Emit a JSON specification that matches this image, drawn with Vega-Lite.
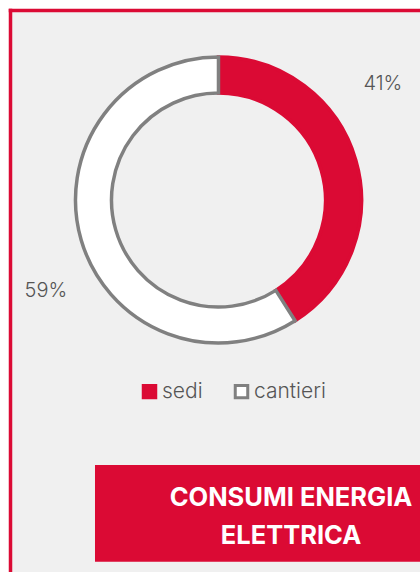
{
  "$schema": "https://vega.github.io/schema/vega-lite/v6.json",
  "width": 410,
  "height": 562,
  "autosize": {"type": "none"},
  "padding": {"left": 10, "top": 10, "right": 0, "bottom": 0},
  "background": "#ffffff",
  "config": {
    "view": {"fill": "#f0f0f0", "stroke": null},
    "font": "Inter"
  },
  "data": {"values": [
    {"category": "sedi", "value": 0.41},
    {"category": "cantieri", "value": 0.59}
  ]},
  "resolve": {"scale": {"theta": "independent"}},
  "layer": [
    {
      "data": {"values": [{"box": "titolo"}]},
      "mark": {"type": "rect", "fill": "#db0a34"},
      "encoding": {
        "x": {"datum": 0.2073, "type": "quantitative", "scale": {"domain": [0, 1], "nice": false},
              "axis": {"orient": "top", "domainColor": "#db0a34", "domainWidth": 3.5, "domainCap": "square", "ticks": false, "labels": false, "grid": false, "title": null}},
        "x2": {"datum": 1},
        "y": {"datum": 0.8096, "type": "quantitative", "scale": {"domain": [0, 1], "nice": false, "reverse": true},
              "axis": {"orient": "left", "domainColor": "#db0a34", "domainWidth": 3.5, "domainCap": "square", "ticks": false, "labels": false, "grid": false, "title": null}},
        "y2": {"datum": 0.9817}
      }
    },
    {
      "data": {"values": [{"box": "titolo"}]},
      "mark": {"type": "text", "fill": "#ffffff", "font": "Inter", "fontWeight": "bold", "fontSize": 25.5, "align": "center", "baseline": "middle", "lineHeight": 38},
      "encoding": {
        "x": {"datum": 0.6854, "type": "quantitative"},
        "y": {"datum": 0.8683, "type": "quantitative"},
        "text": {"value": ["CONSUMI ENERGIA", "ELETTRICA"]}
      }
    },
    {
      "mark": {"type": "arc", "outerRadius": 143, "innerRadius": 107, "strokeWidth": 3.5},
      "encoding": {
        "x": {"datum": 0.5085, "type": "quantitative"},
        "y": {"datum": 0.3381, "type": "quantitative"},
        "theta": {"field": "value", "type": "quantitative", "stack": true},
        "order": {"field": "category", "sort": "descending"},
        "fill": {"field": "category", "type": "nominal", "sort": "descending",
                 "scale": {"range": ["#db0a34", "#ffffff"]},
                 "legend": {"title": null, "orient": "none", "legendX": 129, "legendY": 371, "direction": "horizontal", "padding": 0,
                            "symbolType": "square", "symbolSize": 156, "symbolStrokeWidth": 3,
                            "labelFont": "Inter", "labelFontSize": 21, "labelFontWeight": 300, "labelColor": "#555555",
                            "labelOffset": 2, "columnPadding": 26,
                            "encode": {"symbols": {"update": {"strokeWidth": {"value": 3}}}}}},
        "stroke": {"field": "category", "type": "nominal", "sort": "descending",
                   "scale": {"range": ["#db0a34", "#808080"]},
                   "legend": {"title": null, "orient": "none", "legendX": 129, "legendY": 371, "direction": "horizontal", "padding": 0,
                            "symbolType": "square", "symbolSize": 156, "symbolStrokeWidth": 3,
                            "labelFont": "Inter", "labelFontSize": 21, "labelFontWeight": 300, "labelColor": "#555555",
                            "labelOffset": 2, "columnPadding": 26,
                            "encode": {"symbols": {"update": {"strokeWidth": {"value": 3}}}}}}
      }
    },
    {
      "mark": {"type": "text", "radius": 201, "fontSize": 20, "fontWeight": 300, "fill": "#555555", "align": "center", "baseline": "middle"},
      "encoding": {
        "x": {"datum": 0.5085, "type": "quantitative"},
        "y": {"datum": 0.3381, "type": "quantitative"},
        "theta": {"field": "value", "type": "quantitative", "stack": true, "scale": {"range": [-0.330, 5.953]}},
        "order": {"field": "category", "sort": "descending"},
        "text": {"field": "value", "type": "quantitative", "format": ".0%"},
        "opacity": {"condition": {"test": "datum.category === 'sedi'", "value": 1}, "value": 0}
      }
    },
    {
      "mark": {"type": "text", "radius": 195, "fontSize": 20, "fontWeight": 300, "fill": "#555555", "align": "center", "baseline": "middle"},
      "encoding": {
        "x": {"datum": 0.5085, "type": "quantitative"},
        "y": {"datum": 0.3381, "type": "quantitative"},
        "theta": {"field": "value", "type": "quantitative", "stack": true, "scale": {"range": [-0.201, 6.082]}},
        "order": {"field": "category", "sort": "descending"},
        "text": {"field": "value", "type": "quantitative", "format": ".0%"},
        "opacity": {"condition": {"test": "datum.category === 'cantieri'", "value": 1}, "value": 0}
      }
    }
  ]
}
